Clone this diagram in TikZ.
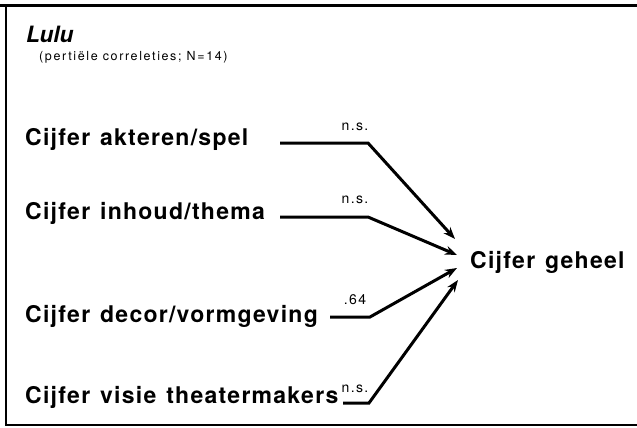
\documentclass[tikz,border=0pt]{standalone}
\usepackage{fontspec}
\setmainfont{TeX Gyre Heros}
\newfontfamily\lblfont[LetterSpace=5.5, WordSpace=1.3]{TeX Gyre Heros}
\newfontfamily\smallfont[LetterSpace=13]{TeX Gyre Heros}
\newfontfamily\coeffont[LetterSpace=10]{TeX Gyre Heros}
\usetikzlibrary{arrows.meta}
\tikzset{
  lbl/.style={anchor=base west, inner sep=0pt, font=\lblfont\bfseries\fontsize{23}{26}\selectfont},
  coef/.style={inner sep=0pt, font=\coeffont\fontsize{14}{16}\selectfont},
  conn/.style={line width=3pt, line join=miter, -{Stealth[length=12pt,width=9pt]}},
  frame/.style={line width=2.2pt}
}
\begin{document}
\begin{tikzpicture}[x=1pt,y=-1pt]
\useasboundingbox (0,0) rectangle (637,428);
% frame
\draw[frame, line width=3pt] (0,6) -- (637,6);
\draw[frame] (6,5) -- (6,426);
\draw[frame] (5,425) -- (637,425);
% title
\node[anchor=base west, inner sep=0pt, font=\bfseries\itshape\fontsize{22.5}{26}\selectfont] (title) at (26,43) {Lulu};
\node[anchor=base west, inner sep=0pt, font=\smallfont\fontsize{12.5}{14}\selectfont] (sub) at (39,61) {(pertiële correleties; N=14)};
% predictor labels
\node[lbl] (a) at (25,145) {Cijfer akteren/spel};
\node[lbl] (b) at (25,219) {Cijfer inhoud/thema};
\node[lbl] (c) at (25,322) {Cijfer decor/vormgeving};
\node[lbl] (d) at (25,403) {Cijfer visie theatermakers};
\node[lbl] (g) at (470,268) {Cijfer geheel};
% connector points
\coordinate (a1) at (280,143);
\coordinate (a2) at (368,143);
\coordinate (b1) at (280,217);
\coordinate (b2) at (368,217);
\coordinate (c1) at (330,317);
\coordinate (c2) at (370,317);
\coordinate (d1) at (343,403);
\coordinate (d2) at (369,403);
\coordinate (ta) at (455,239);
\coordinate (tb) at (457,255);
\coordinate (tc) at (457,268);
\coordinate (td) at (458,280);
\draw[conn] (a1) -- (a2) -- (ta);
\draw[conn] (b1) -- (b2) -- (tb);
\draw[conn] (c1) -- (c2) -- (tc);
\draw[conn] (d1) -- (d2) -- (td);
% coefficients
\node[coef] (ka) at (355,127) {n.s.};
\node[coef] (kb) at (355,200) {n.s.};
\node[coef] (kc) at (355,300) {.64};
\node[coef] (kd) at (355,389) {n.s.};
\end{tikzpicture}
\end{document}
